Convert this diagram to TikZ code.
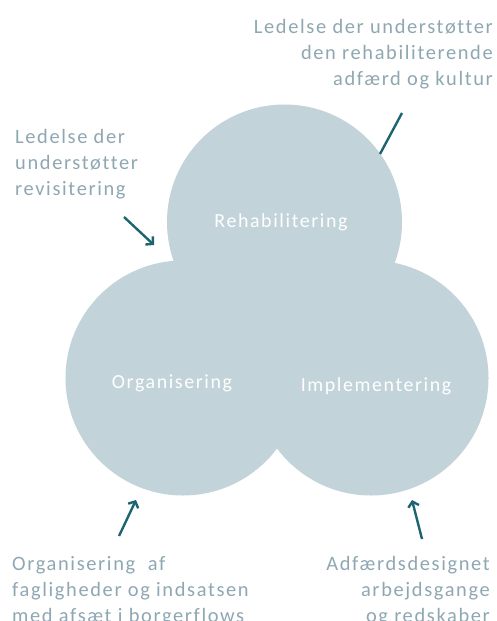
\documentclass[tikz,border=0pt]{standalone}
\usepackage{fontspec}
\setmainfont[LetterSpace=8,Ligatures=NoCommon]{Carlito}
\usepackage{xcolor}
\usetikzlibrary{arrows.meta,positioning}
\definecolor{circfill}{HTML}{C2D3D9}
\definecolor{labelgrey}{HTML}{8FA7B2}
\definecolor{arrowteal}{HTML}{1D6470}

\begin{document}
\begin{tikzpicture}[x=1bp,y=-1bp,
  blob/.style={circle,fill=circfill,minimum size=235bp,inner sep=0pt,outer sep=0pt},
  blobtext/.style={text=white,font=\fontsize{20}{26}\selectfont},
  remark/.style={inner sep=0pt,text=labelgrey,font=\fontsize{20.5}{26}\selectfont},
  pointer/.style={draw=arrowteal,line width=2.4pt,-{Straight Barb[length=5bp,width=11bp]}}]
\useasboundingbox (0,0) rectangle (497,621);
\node[blob] (reh) at (284.5,222) {};
\node[blob] (org) at (183,378) {};
\node[blob] (imp) at (371,378) {};
\node[blobtext] (rehtxt) at (281,222) {Rehabilitering};
\node[blobtext] (orgtxt) at (172,383) {Organisering};
\node[blobtext] (imptxt) at (376,386) {Implementering};
\node[remark,align=right,anchor=north east] (lead1) at (493,19) {Ledelse der understøtter\\den rehabiliterende\\adfærd og kultur};
\node[remark,align=left,anchor=north west] (lead2) at (15,129) {Ledelse der\\understøtter\\revisitering};
\node[remark,align=left,anchor=north west] (orgnote) at (12,556) {Organisering\ \ af\\fagligheder og indsatsen\\med afsæt i borgerflows};
\node[remark,align=right,anchor=north east] (impnote) at (490,556) {Adfærdsdesignet\\arbejdsgange\\og redskaber};
\coordinate (a1s) at (402,113);
\coordinate (a1e) at (380,154);
\coordinate (a2s) at (124,217);
\coordinate (a2e) at (154,245);
\coordinate (a3s) at (119,536);
\coordinate (a3e) at (136,500);
\coordinate (a4s) at (422,539);
\coordinate (a4e) at (412,500);
\draw[draw=arrowteal,line width=2.4pt] (a1s) -- (a1e);
\draw[pointer] (a2s) -- (a2e);
\draw[pointer] (a3s) -- (a3e);
\draw[pointer] (a4s) -- (a4e);
\end{tikzpicture}
\end{document}
